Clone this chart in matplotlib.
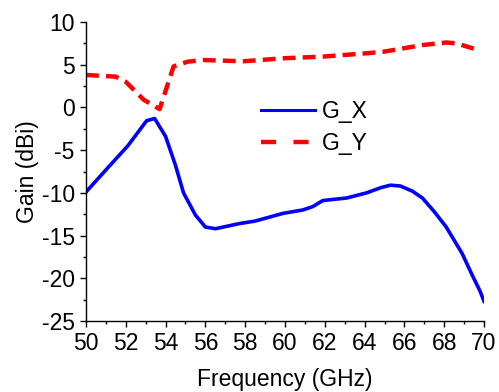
import matplotlib
matplotlib.use("Agg")
import matplotlib.pyplot as plt
from matplotlib.lines import Line2D
from matplotlib.ticker import MultipleLocator

plt.rcParams['font.family'] = ['Liberation Sans', 'DejaVu Sans']
plt.rcParams['font.size'] = 16.5
plt.rcParams['axes.unicode_minus'] = False

freq_x = [50, 51.2, 52.1, 53.05, 53.45, 54.0, 54.5, 54.9, 55.5, 56.0, 56.5, 57.7, 58.5,
          59.9, 60.9, 61.4, 61.9, 63.1, 64.1, 64.8, 65.3, 65.8, 66.4, 66.9, 67.5,
          68.1, 68.9, 69.4, 69.8, 70]
gain_x = [-9.9, -6.8, -4.5, -1.55, -1.3, -3.4, -6.8, -10.0, -12.6, -14.0, -14.2, -13.6, -13.3,
          -12.4, -12.0, -11.6, -10.9, -10.6, -10.0, -9.4, -9.1, -9.2, -9.8, -10.6, -12.2,
          -14.0, -17.1, -19.6, -21.5, -22.7]

freq_y = [50, 51.5, 52.0, 52.9, 53.7, 54.4, 55.1, 55.9, 57.9, 59.9, 61.9, 63.9, 64.9,
          66.9, 68.1, 68.6, 69.6]
gain_y = [3.8, 3.6, 3.0, 0.9, -0.2, 4.8, 5.35, 5.55, 5.4, 5.75, 5.95, 6.3, 6.5,
          7.3, 7.6, 7.5, 6.8]

fig = plt.figure(figsize=(4.99, 3.92), dpi=100)
ax = fig.add_axes([0.1723, 0.1811, 0.7977, 0.7628])

ax.plot(freq_x, gain_x, color='#0000ff', lw=2.6, solid_joinstyle='round')
ln, = ax.plot(freq_y, gain_y, color='#ff0000', lw=3.2)
ln.set_dashes([2.9, 1.6])

ax.set_xlim(50, 70)
ax.set_ylim(-25, 10)
ax.xaxis.set_major_locator(MultipleLocator(2))
ax.xaxis.set_minor_locator(MultipleLocator(1))
ax.yaxis.set_major_locator(MultipleLocator(5))
ax.yaxis.set_minor_locator(MultipleLocator(2.5))
for s in ['top', 'right']:
    ax.spines[s].set_visible(False)
for s in ['left', 'bottom']:
    ax.spines[s].set_linewidth(1.0)
ax.tick_params(which='major', direction='out', length=4, width=1, pad=4)
ax.tick_params(which='minor', direction='out', length=2, width=1)

ax.set_xlabel('Frequency (GHz)', labelpad=9)
ax.set_ylabel('Gain (dBi)', labelpad=2)

h1 = Line2D([], [], color='#0000ff', lw=2.2)
h2 = Line2D([], [], color='#ff0000', lw=3.2)
h2.set_dashes([3.4, 3.9])
ax.legend([h1, h2], ['G_X', 'G_Y'], loc='upper left', bbox_to_anchor=(0.44, 0.74),
          frameon=False, borderpad=0, borderaxespad=0, handlelength=2.36,
          handletextpad=0.3, labelspacing=0.42)

fig.savefig('out.png', dpi=100)
